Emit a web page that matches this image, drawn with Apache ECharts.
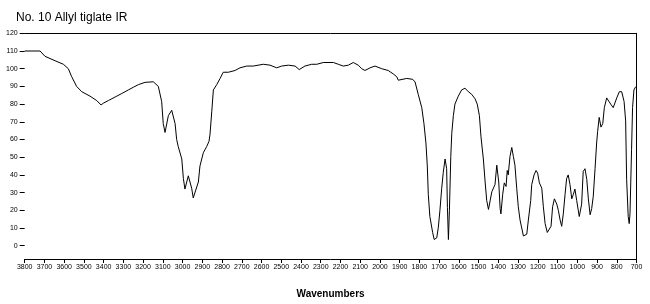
<!DOCTYPE html>
<html>
<head>
<meta charset="utf-8">
<script src="https://cdn.jsdelivr.net/npm/echarts@6/dist/echarts.min.js"></script>
<style>html,body{margin:0;padding:0;background:#fff}#c{width:650px;height:304px}</style>
</head>
<body>
<div id="c"></div>
<script>
const titleText = "No. 10 Allyl tiglate IR";
const xAxisName = "Wavenumbers";
const yTickValues = [0,10,20,30,40,50,60,70,80,90,100,110,120];
const wavenumbers = [3800,3722,3697,3646,3604,3579,3562,3537,3511,3469,3435,3413,3402,3376,3342,3308,3275,3250,3224,3190,3148,3140,3123,3106,3098,3089,3072,3055,3038,3030,3022,3004,2996,2988,2971,2954,2946,2937,2920,2912,2895,2878,2866,2861,2852,2844,2827,2810,2794,2768,2734,2709,2675,2642,2591,2557,2523,2498,2464,2430,2409,2380,2346,2320,2287,2236,2211,2186,2160,2135,2110,2092,2076,2050,2025,1991,1958,1932,1915,1907,1864,1834,1822,1806,1788,1777,1767,1760,1755,1747,1733,1725,1712,1704,1696,1687,1679,1670,1667,1662,1658,1653,1648,1641,1636,1628,1620,1603,1586,1569,1552,1535,1518,1507,1496,1488,1476,1467,1459,1450,1442,1433,1417,1408,1403,1398,1391,1387,1378,1370,1361,1355,1350,1341,1332,1324,1316,1307,1299,1290,1273,1256,1248,1236,1231,1219,1209,1201,1192,1180,1172,1163,1152,1142,1133,1125,1116,1104,1096,1087,1079,1071,1062,1054,1046,1037,1028,1020,1012,1003,990,978,970,961,952,944,935,927,919,910,902,897,889,880,871,863,851,843,831,818,809,800,787,775,763,755,750,742,737,733,725,720,713,706,700];
const transmittance = [110,110,107,104.5,102.5,100,95.5,90,87,84.5,82,79.5,80.5,82,84,86,88,89.5,91,92.3,92.6,92.5,90,81.5,69,64,73.5,76.5,69,60,56,49,38,32,39.5,32.5,27,28,36,45,52.5,56,59,63,76,88,91,94.5,98,98,99,100.5,101.5,101.5,102.5,102,100.5,101.5,102,101.5,99.5,101.5,102.5,102.5,103.5,103.5,102.5,101.5,102,103.5,102,100,99,100.5,101.5,100,99,97,95.5,93.5,94.5,94,92.5,85.5,78,69,58,45,29,16.5,7.5,3.5,4.5,10.5,20,32.5,41.5,49,50,43.5,21.5,3.5,20,50.5,63.5,73.5,80,84.5,88,89,87,85.5,83,80,73.5,61.5,49,36,25.5,20.5,20,30.5,34.5,45.5,46,36,21,18,29,35.5,33.5,42.5,40,50.5,55.5,50.5,45.5,32.5,22,14.5,5.5,6.5,14.5,25.5,34.5,40,42.5,41,35.5,32.5,22,12.5,7.5,6.5,11,22,26.5,23.5,20,14.5,11,18,29,38,40,34.5,26.5,29,32,25.5,16.5,23.5,42,43.5,37.5,26.5,17.5,21,28,43.5,58,64.5,72.5,67,69,78,83.5,82.5,80,78,79,83.5,87,87,81.5,70.5,37.5,16.5,12.5,18,54.5,78,88,89.5,90];

const seriesData = wavenumbers.map((w, i) => [w, transmittance[i]]);
const chart = echarts.init(document.getElementById('c'), null, {renderer: 'canvas'});
const labelFont = {fontFamily: 'Liberation Sans, Arial, sans-serif', fontSize: 7, color: '#000'};
chart.setOption({
  animation: false,
  backgroundColor: '#fff',
  title: {
    text: titleText, left: 11, top: 7,
    textStyle: {fontFamily: 'Liberation Sans, Arial, sans-serif', fontSize: 12, fontWeight: 'normal', color: '#000'}
  },
  grid: {left: 24.7, right: 13.5, top: 33.3, bottom: 37, containLabel: false},
  xAxis: [{
    type: 'value', inverse: true, min: 700, max: 3800, interval: 100,
    name: xAxisName, nameLocation: 'middle', nameGap: 30,
    nameTextStyle: {fontFamily: 'Liberation Sans, Arial, sans-serif', fontSize: 10, fontWeight: 'bold', color: '#000'},
    axisLine: {show: true, onZero: false, lineStyle: {color: '#000', width: 1}},
    axisTick: {show: true, length: 4, lineStyle: {color: '#000'}},
    axisLabel: Object.assign({margin: 5, showMinLabel: true, showMaxLabel: true, hideOverlap: false,
      formatter: v => String(v)}, labelFont),
    splitLine: {show: false}
  }, {
    type: 'value', position: 'top', min: 700, max: 3800,
    axisLine: {show: true, onZero: false, lineStyle: {color: '#000', width: 1}},
    axisTick: {show: false}, axisLabel: {show: false}, splitLine: {show: false}
  }],
  yAxis: [{
    type: 'value', min: -7.5, max: 120,
    axisLine: {show: false, onZero: false},
    axisTick: {show: true, length: 5, customValues: yTickValues, lineStyle: {color: '#000'}},
    axisLabel: Object.assign({margin: 7, customValues: yTickValues}, labelFont),
    splitLine: {show: false}
  }, {
    type: 'value', position: 'right', min: -7.5, max: 120,
    axisLine: {show: true, onZero: false, lineStyle: {color: '#000', width: 1}},
    axisTick: {show: false}, axisLabel: {show: false}, splitLine: {show: false}
  }],
  series: [{
    type: 'line', data: seriesData, showSymbol: false, smooth: false,
    lineStyle: {color: '#000', width: 1}, itemStyle: {color: '#000'}
  }]
});
</script>
</body>
</html>
